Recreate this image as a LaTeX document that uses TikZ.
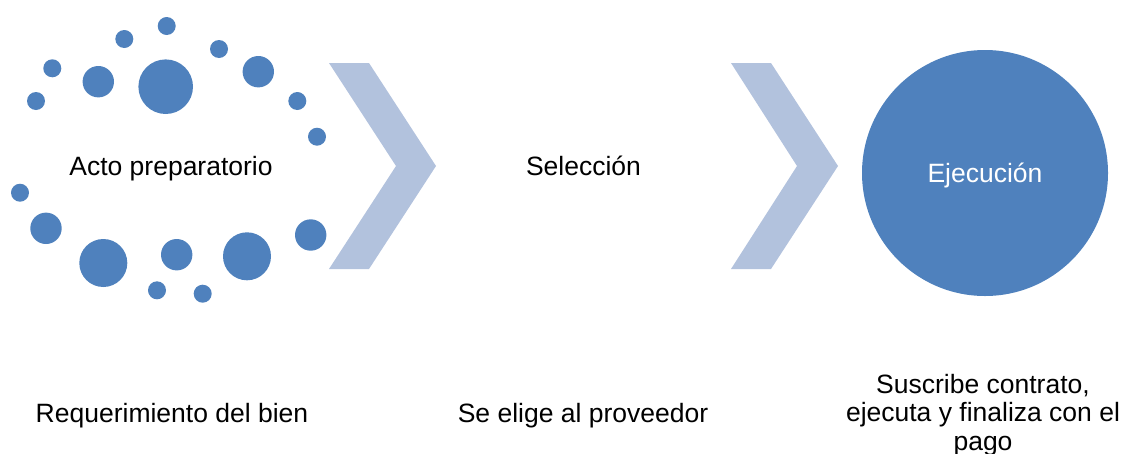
\documentclass[tikz,border=0pt]{standalone}
\usepackage{fontspec}
\setmainfont{Liberation Sans}

\tikzset{every picture/.style={line width=0.75pt}}
\definecolor{dotblue}{RGB}{79,129,189}
\definecolor{chevblue}{RGB}{178,194,221}
\tikzset{
  dot/.style={fill=dotblue},
  chevron/.style={fill=chevblue},
  txt/.style={inner sep=0pt,anchor=base,font=\fontsize{26.5}{28.5}\selectfont},
}

\begin{document}
\begin{tikzpicture}[x=1pt,y=1pt,yscale=-1,xscale=1]
\useasboundingbox (0,0) rectangle (1126,453);

%Shape: Circle (small dots)
\fill [dot] (166.7,26) circle (9) ;
\fill [dot] (124.3,39) circle (9) ;
\fill [dot] (219,49) circle (9) ;
\fill [dot] (52.3,68.3) circle (9) ;
\fill [dot] (36,101) circle (9) ;
\fill [dot] (297.3,101) circle (9) ;
\fill [dot] (317,136.7) circle (9) ;
\fill [dot] (20,192.7) circle (9) ;
\fill [dot] (157,290.3) circle (9) ;
\fill [dot] (202.7,293.7) circle (9) ;
%Shape: Circle (middle dots)
\fill [dot] (98.3,81.7) circle (15.7) ;
\fill [dot] (258.3,71.7) circle (15.7) ;
\fill [dot] (46,228.3) circle (15.7) ;
\fill [dot] (176.7,254.7) circle (15.7) ;
\fill [dot] (310.7,235) circle (15.7) ;
%Shape: Circle (large dots)
\fill [dot] (165.7,86.7) circle (27.3) ;
\fill [dot] (103.3,263) circle (24) ;
\fill [dot] (247,256.3) circle (24) ;

%Shape: Chevron
\fill [chevron] (329,63) -- (369,63) -- (436,166) -- (369,269) -- (329,269) -- (396,166) -- cycle ;
%Shape: Chevron
\fill [chevron] (731,63) -- (771,63) -- (838,166) -- (771,269) -- (731,269) -- (797,166) -- cycle ;

%Shape: Circle
\fill [dot] (985,173) circle (123) ;

% Text Node
\node (acto) [txt] at (171,175) {Acto preparatorio};
% Text Node
\node (seleccion) [txt] at (583.5,175) {Selección};
% Text Node
\node (ejecucion) [txt,text=white] at (985,182) {Ejecución};
% Text Node
\node (requerimiento) [txt] at (172,422) {Requerimiento del bien};
% Text Node
\node (proveedor) [txt] at (583,422) {Se elige al proveedor};
% Text Node
\node (contrato) [txt,align=center] at (983,450) {Suscribe contrato,\\ejecuta y finaliza con el\\pago};

\end{tikzpicture}
\end{document}
